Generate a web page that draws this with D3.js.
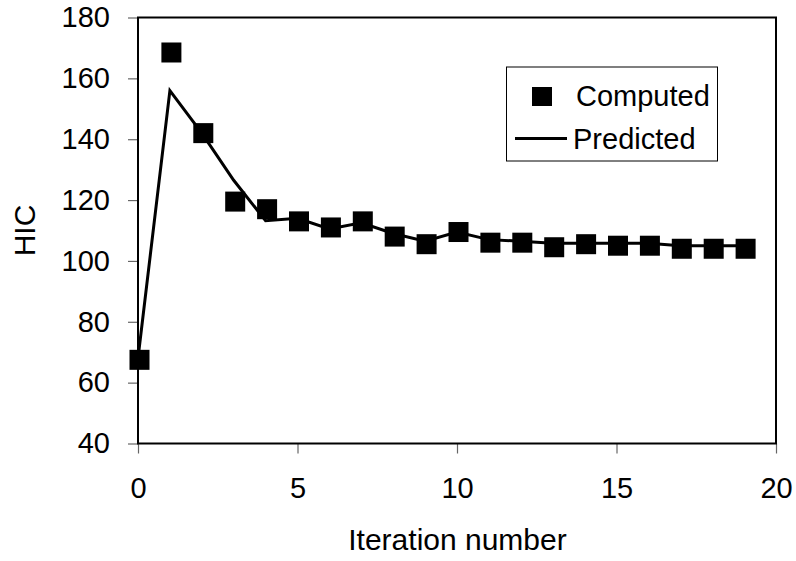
<!DOCTYPE html>
<html>
<head>
<meta charset="utf-8">
<script src="https://cdn.jsdelivr.net/npm/d3@7"></script>
<style>
  html, body { margin: 0; padding: 0; background: #fff; }
  svg { display: block; font-family: "Liberation Sans", Arial, sans-serif; }
</style>
</head>
<body>
<svg id="chart" width="796" height="561"></svg>
<script>
// Iteration index for every point
const iterations = d3.range(0, 20);
// HIC from the full computation
const computed = [67.5, 168.5, 142, 119.5, 117, 113, 111, 113, 108, 105.5, 109.5, 106, 106, 104.5, 105.5, 105, 105, 104, 104, 104];
// HIC from the surrogate prediction
const predicted = [68, 156, 142, 126.5, 113.2, 114, 110.5, 112.5, 109, 106.5, 109.5, 107, 106.5, 105.8, 105.8, 105.8, 105.8, 105, 105, 105];
const xTicks = [0, 5, 10, 15, 20];
const yTicks = [40, 60, 80, 100, 120, 140, 160, 180];
const seriesNames = ["Computed", "Predicted"];

const svg = d3.select("#chart");
const plot = { left: 138, right: 776, top: 17.5, bottom: 443.5 };

const x = d3.scaleLinear().domain([0, 20]).range([plot.left, plot.right]);
const y = d3.scaleLinear().domain([40, 180]).range([plot.bottom, plot.top]);

// x axis ticks and labels
const xAxis = svg.append("g")
  .attr("transform", `translate(0,${plot.bottom})`)
  .call(d3.axisBottom(x).tickValues(xTicks).tickSize(10).tickSizeOuter(0).tickPadding(24));
xAxis.select(".domain").remove();
xAxis.selectAll(".tick line").attr("stroke", "#666").attr("stroke-width", 1.2);
xAxis.selectAll(".tick text").attr("font-size", 29).attr("fill", "#000")
  .attr("font-family", "Liberation Sans, Arial, sans-serif");

// y axis ticks and labels
const yAxis = svg.append("g")
  .attr("transform", `translate(${plot.left},0)`)
  .call(d3.axisLeft(y).tickValues(yTicks).tickSize(10).tickSizeOuter(0).tickPadding(18));
yAxis.select(".domain").remove();
yAxis.selectAll(".tick line").attr("stroke", "#666").attr("stroke-width", 1.2);
yAxis.selectAll(".tick text").attr("font-size", 29).attr("fill", "#000")
  .attr("font-family", "Liberation Sans, Arial, sans-serif");

// plot frame
svg.append("rect")
  .attr("x", plot.left).attr("y", plot.top)
  .attr("width", plot.right - plot.left).attr("height", plot.bottom - plot.top)
  .attr("fill", "none").attr("stroke", "#000").attr("stroke-width", 2);

// axis titles
svg.append("text")
  .attr("x", (plot.left + plot.right) / 2 + 0.5).attr("y", 550)
  .attr("text-anchor", "middle").attr("font-size", 30).attr("fill", "#000")
  .text("Iteration number");
svg.append("text")
  .attr("transform", `translate(35,${(plot.top + plot.bottom) / 2}) rotate(-90)`)
  .attr("text-anchor", "middle").attr("font-size", 30).attr("fill", "#000")
  .text("HIC");

// predicted line
const line = d3.line().x((d, i) => x(iterations[i])).y(d => y(d));
svg.append("path")
  .datum(predicted)
  .attr("d", line)
  .attr("fill", "none").attr("stroke", "#000").attr("stroke-width", 3)
  .attr("stroke-linejoin", "miter");

// computed markers
const size = 20;
svg.append("g").selectAll("rect")
  .data(computed)
  .join("rect")
  .attr("x", (d, i) => x(iterations[i]) - size / 2 + 1.5)
  .attr("y", d => y(d) - size / 2)
  .attr("width", size).attr("height", size)
  .attr("fill", "#000");

// legend
const legend = svg.append("g");
legend.append("rect")
  .attr("x", 506.5).attr("y", 67).attr("width", 211).attr("height", 94)
  .attr("fill", "#fff").attr("stroke", "#000").attr("stroke-width", 1);
legend.append("rect")
  .attr("x", 532).attr("y", 87).attr("width", 20).attr("height", 19).attr("fill", "#000");
legend.append("text")
  .attr("x", 576).attr("y", 105.5).attr("font-size", 29).attr("fill", "#000")
  .text(seriesNames[0]);
legend.append("line")
  .attr("x1", 515).attr("x2", 567).attr("y1", 138.5).attr("y2", 138.5)
  .attr("stroke", "#000").attr("stroke-width", 3);
legend.append("text")
  .attr("x", 573).attr("y", 148.5).attr("font-size", 29).attr("fill", "#000")
  .text(seriesNames[1]);
</script>
</body>
</html>
